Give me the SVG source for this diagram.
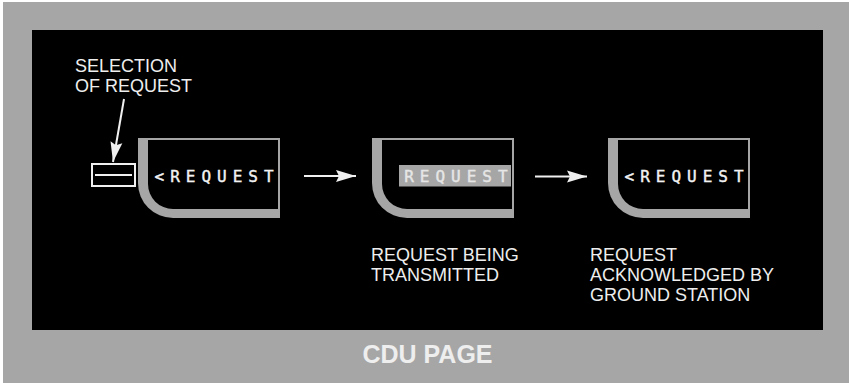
<svg xmlns="http://www.w3.org/2000/svg" width="849" height="383" viewBox="0 0 849 383">
  <style>
    .lbl { font-family: "Liberation Sans", Arial, sans-serif; font-size: 18px; fill: #eeeeee; }
    .scr { font-family: "DejaVu Sans Mono", "Liberation Mono", monospace; font-size: 16px; letter-spacing: 6px; fill: #f2f2f2; stroke: #f2f2f2; stroke-width: 0.4px; }
    .title { font-family: "Liberation Sans", Arial, sans-serif; font-size: 25px; font-weight: bold; fill: #eeeeee; }
    .bezel { fill: #a6a6a6; }
    .glass { fill: #000000; }
    .conn { stroke: #f0f0f0; stroke-width: 2; fill: none; }
  </style>
  <defs>
    <marker id="ah" markerUnits="userSpaceOnUse" markerWidth="24" markerHeight="16" viewBox="-21 -8 22 16" refX="0" refY="0" orient="auto">
      <path d="M0,0 L-20,-6 L-17,0 L-20,6 Z" fill="#f0f0f0"/>
    </marker>
    <path id="screen" d="M0,0 H142 V80 H35 A35,35 0 0 1 0,45 Z"/>
    <path id="glass" d="M10,2 H140 V71 H35 A25,25 0 0 1 10,46 Z"/>
  </defs>

  <rect x="0" y="0" width="849" height="383" fill="#ffffff"/>
  <rect x="3" y="2" width="846" height="381" fill="#a6a6a6"/>
  <rect x="32" y="30" width="791" height="300" fill="#000000"/>

  <g id="selection-label">
    <text class="lbl" x="75" y="71.5">SELECTION</text>
    <text class="lbl" x="75" y="91.5">OF REQUEST</text>
  </g>

  <g id="selection-key">
    <rect x="92" y="164" width="43" height="22" fill="none" stroke="#f0f0f0" stroke-width="2"/>
    <line x1="95" y1="175" x2="132" y2="175" stroke="#f0f0f0" stroke-width="2"/>
  </g>

  <g id="screen-1" transform="translate(138,138)">
    <use href="#screen" class="bezel"/>
    <use href="#glass" class="glass"/>
    <text class="scr" x="16.5" y="43.5">&lt;REQUEST</text>
  </g>

  <g id="screen-2" transform="translate(372,138)">
    <use href="#screen" class="bezel"/>
    <use href="#glass" class="glass"/>
    <rect x="27" y="27" width="112" height="21.5" fill="#a6a6a6"/>
    <text class="scr" x="16.5" y="43.5" style="fill:#e6e6e6;stroke:#e6e6e6">&#160;REQUEST</text>
  </g>

  <g id="screen-3" transform="translate(608,138)">
    <use href="#screen" class="bezel"/>
    <use href="#glass" class="glass"/>
    <text class="scr" x="16.5" y="43.5">&lt;REQUEST</text>
  </g>

  <g id="caption-2">
    <text class="lbl" x="371" y="260.5">REQUEST BEING</text>
    <text class="lbl" x="371" y="280.5">TRANSMITTED</text>
  </g>

  <g id="caption-3">
    <text class="lbl" x="590" y="260.5">REQUEST</text>
    <text class="lbl" x="590" y="280.5">ACKNOWLEDGED BY</text>
    <text class="lbl" x="590" y="300.5">GROUND STATION</text>
  </g>

  <g id="connectors">
    <line class="conn" x1="124" y1="99" x2="113" y2="162" marker-end="url(#ah)"/>
    <line class="conn" x1="304" y1="176" x2="356" y2="176" marker-end="url(#ah)"/>
    <line class="conn" x1="535" y1="176.5" x2="587" y2="176.5" marker-end="url(#ah)"/>
  </g>

  <g id="title">
    <text class="title" x="427.5" y="362.5" text-anchor="middle">CDU PAGE</text>
  </g>
</svg>
